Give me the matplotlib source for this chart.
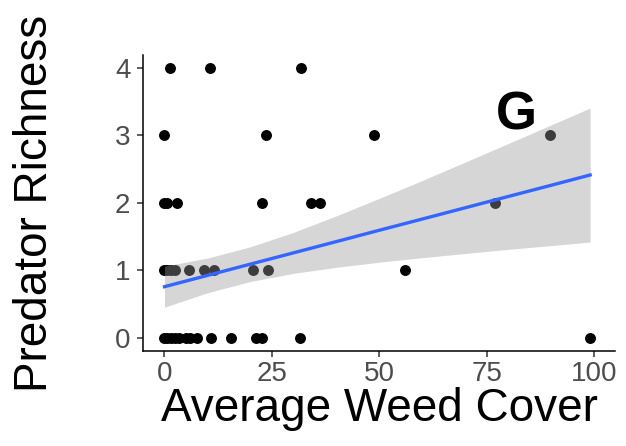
import numpy as np
import matplotlib
matplotlib.use("Agg")
import matplotlib.pyplot as plt

# Points (weed cover for each predator-richness level)
weed_y4 = [1.2, 10.5, 31.7]
weed_y3 = [0.0, 23.6, 48.7, 89.8]
weed_y2 = [0.0, 0.6, 3.0, 22.6, 34.0, 36.3, 77.0]
weed_y1 = [0.0, 0.5, 1.5, 2.5, 5.6, 9.1, 11.6, 20.5, 24.0, 56.0]
weed_y0 = [0.0, 0.5, 1.5, 2.5, 3.5, 5.0, 6.0, 7.5, 10.9, 15.6, 21.4, 22.8, 31.6, 99.1]
richness_levels = [4, 3, 2, 1, 0]

# Linear smooth and its confidence band
smooth_x = [0, 10, 20, 30, 40, 50, 60, 70, 80, 90, 99.1]
smooth_fit = [0.760, 0.927, 1.094, 1.261, 1.428, 1.596, 1.762, 1.929, 2.096, 2.262, 2.415]
smooth_lo = [0.456, 0.670, 0.837, 0.957, 1.047, 1.123, 1.190, 1.252, 1.313, 1.369, 1.422]
smooth_hi = [1.064, 1.184, 1.351, 1.564, 1.809, 2.068, 2.333, 2.606, 2.880, 3.156, 3.407]

x_ticks = [0, 25, 50, 75, 100]
y_ticks = [0, 1, 2, 3, 4]

groups = [weed_y4, weed_y3, weed_y2, weed_y1, weed_y0]
x = np.concatenate([np.array(g, float) for g in groups])
y = np.concatenate([np.full(len(g), lvl, float) for g, lvl in zip(groups, richness_levels)])

plt.rcParams['font.family'] = ['Liberation Sans', 'DejaVu Sans']
fig = plt.figure(figsize=(6.26, 4.46), dpi=100)
ax = fig.add_axes([0.2284, 0.2119, 0.9832 - 0.2284, 0.8778 - 0.2119])

ax.scatter(x, y, s=62, color='black', zorder=2, linewidths=0)
ax.fill_between(smooth_x, smooth_lo, smooth_hi, color='#999999', alpha=0.4, linewidth=0, zorder=3)
ax.plot(smooth_x, smooth_fit, color='#3366FF', linewidth=2.4, zorder=4)

ax.set_xlim(-5, 105)
ax.set_ylim(-0.2, 4.2)
ax.set_xticks(x_ticks)
ax.set_yticks(y_ticks)
ax.tick_params(labelsize=20, labelcolor='#4D4D4D', color='#333333', length=4, width=1.1)
ax.tick_params(axis='y', pad=5)
ax.tick_params(axis='x', pad=3)
for side in ['top', 'right']:
    ax.spines[side].set_visible(False)
for side in ['left', 'bottom']:
    ax.spines[side].set_linewidth(1.1)
ax.set_xlabel('Average Weed Cover', fontsize=33, labelpad=0)
ax.set_ylabel('Predator Richness', fontsize=33, labelpad=42)
ax.text(82, 3.3, 'G', fontsize=38, fontweight='bold', ha='center', va='center', zorder=5)

fig.savefig('out.png', dpi=100)
